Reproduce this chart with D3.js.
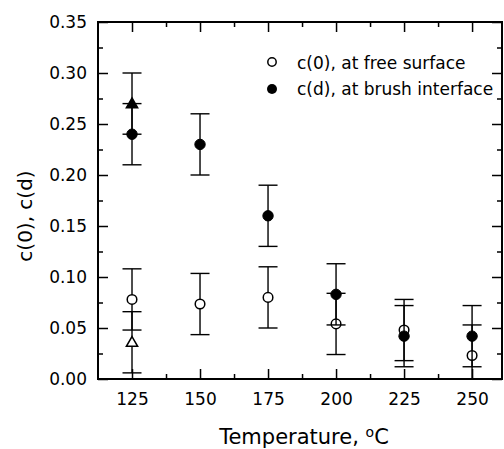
<!DOCTYPE html>
<html>
<head>
<meta charset="utf-8">
<script src="https://cdn.jsdelivr.net/npm/d3@7"></script>
<style>
  html, body { margin: 0; padding: 0; background: #fff; }
  svg { display: block; font-family: "DejaVu Sans", sans-serif; }
</style>
</head>
<body>
<svg id="chart" width="504" height="449"></svg>
<script>
// ---- data ----
const temps = [125, 150, 175, 200, 225, 250];
const c0Values = [0.078, 0.0735, 0.080, 0.054, 0.048, 0.023];
const c0Errors = [0.03, 0.03, 0.03, 0.03, 0.03, 0.03];
const cdValues = [0.24, 0.23, 0.16, 0.083, 0.042, 0.042];
const cdErrors = [0.03, 0.03, 0.03, 0.03, 0.03, 0.03];
const triFilledTemps = [125];
const triFilledValues = [0.27];
const triFilledErrors = [0.03];
const triOpenTemps = [125];
const triOpenValues = [0.036];
const triOpenErrors = [0.03];
const xTicks = [125, 150, 175, 200, 225, 250];
const xMinorTicks = [137.5, 162.5, 187.5, 212.5, 237.5];
const yTicks = [0, 0.05, 0.10, 0.15, 0.20, 0.25, 0.30, 0.35];
const yMinorTicks = [0.025, 0.075, 0.125, 0.175, 0.225, 0.275, 0.325];
const legendLabels = ["c(0), at free surface", "c(d), at brush interface"];

// ---- layout ----
const L = 98, R = 502, T = 22, B = 379;
const svg = d3.select("#chart");
const x = d3.scaleLinear().domain([112.5, 261]).range([L, R]);
const y = d3.scaleLinear().domain([0, 0.35]).range([B, T]);

svg.append("defs").append("clipPath").attr("id", "plotclip")
  .append("rect").attr("x", L).attr("y", T).attr("width", R - L).attr("height", B - T);

function styleAxis(g) {
  g.select(".domain").remove();
  g.selectAll(".tick line").attr("stroke", "#000").attr("stroke-width", 1.5);
  g.selectAll(".tick text").attr("fill", "#000").attr("font-size", 17)
    .attr("font-family", "DejaVu Sans, sans-serif");
}

// bottom
svg.append("g").attr("transform", `translate(0,${B})`)
  .call(d3.axisBottom(x).tickValues(xTicks).tickSize(-10).tickPadding(14).tickFormat(d3.format("d")))
  .call(styleAxis);
svg.append("g").attr("transform", `translate(0,${B})`)
  .call(d3.axisBottom(x).tickValues(xMinorTicks).tickSize(-5).tickFormat(""))
  .call(styleAxis);
// top
svg.append("g").attr("transform", `translate(0,${T})`)
  .call(d3.axisTop(x).tickValues(xTicks).tickSize(-10).tickFormat(""))
  .call(styleAxis);
svg.append("g").attr("transform", `translate(0,${T})`)
  .call(d3.axisTop(x).tickValues(xMinorTicks).tickSize(-5).tickFormat(""))
  .call(styleAxis);
// left
svg.append("g").attr("transform", `translate(${L},0)`)
  .call(d3.axisLeft(y).tickValues(yTicks).tickSize(-10).tickPadding(11).tickFormat(d3.format(".2f")))
  .call(styleAxis);
svg.append("g").attr("transform", `translate(${L},0)`)
  .call(d3.axisLeft(y).tickValues(yMinorTicks).tickSize(-5).tickFormat(""))
  .call(styleAxis);
// right
svg.append("g").attr("transform", `translate(${R},0)`)
  .call(d3.axisRight(y).tickValues(yTicks).tickSize(-10).tickFormat(""))
  .call(styleAxis);
svg.append("g").attr("transform", `translate(${R},0)`)
  .call(d3.axisRight(y).tickValues(yMinorTicks).tickSize(-5).tickFormat(""))
  .call(styleAxis);

// frame
svg.append("rect").attr("x", L).attr("y", T).attr("width", R - L).attr("height", B - T)
  .attr("fill", "none").attr("stroke", "#000").attr("stroke-width", 2);

const plot = svg.append("g").attr("clip-path", "url(#plotclip)");
const capHalf = 9.5;

function errorBars(ts, vs, es) {
  const g = plot.append("g").attr("stroke", "#000").attr("stroke-width", 1.4);
  ts.forEach((t, i) => {
    const lo = vs[i] - es[i], hi = vs[i] + es[i];
    const cx = x(t);
    g.append("line").attr("x1", cx).attr("x2", cx)
      .attr("y1", y(Math.max(lo, 0))).attr("y2", y(hi));
    g.append("line").attr("x1", cx - capHalf).attr("x2", cx + capHalf)
      .attr("y1", y(hi)).attr("y2", y(hi));
    if (lo >= 0) {
      g.append("line").attr("x1", cx - capHalf).attr("x2", cx + capHalf)
        .attr("y1", y(lo)).attr("y2", y(lo));
    }
  });
}
function circles(ts, vs, filled) {
  plot.append("g").selectAll("circle").data(ts).join("circle")
    .attr("cx", d => x(d)).attr("cy", (d, i) => y(vs[i]))
    .attr("r", filled ? 5.2 : 4.8)
    .attr("fill", filled ? "#000" : "#fff")
    .attr("stroke", "#000").attr("stroke-width", filled ? 1 : 1.5);
}
const triSym = d3.symbol().type(d3.symbolTriangle).size(55);
function triangles(ts, vs, filled) {
  plot.append("g").selectAll("path").data(ts).join("path")
    .attr("d", triSym)
    .attr("transform", (d, i) => `translate(${x(d)},${y(vs[i]) + 0.8})`)
    .attr("fill", filled ? "#000" : "#fff")
    .attr("stroke", "#000").attr("stroke-width", 1.5);
}

errorBars(triOpenTemps, triOpenValues, triOpenErrors);
triangles(triOpenTemps, triOpenValues, false);
errorBars(temps, c0Values, c0Errors);
circles(temps, c0Values, false);
errorBars(triFilledTemps, triFilledValues, triFilledErrors);
triangles(triFilledTemps, triFilledValues, true);
errorBars(temps, cdValues, cdErrors);
circles(temps, cdValues, true);

// legend
const leg = svg.append("g");
leg.append("circle").attr("cx", 272).attr("cy", 62).attr("r", 4.2)
  .attr("fill", "#fff").attr("stroke", "#000").attr("stroke-width", 1.5);
leg.append("circle").attr("cx", 272).attr("cy", 89).attr("r", 5)
  .attr("fill", "#000");
leg.selectAll("text").data(legendLabels).join("text")
  .attr("x", 297).attr("y", (d, i) => 69 + i * 26)
  .attr("font-size", 17).attr("fill", "#000").text(d => d);

// axis titles
const xt = svg.append("text").attr("x", 304).attr("y", 444)
  .attr("text-anchor", "middle").attr("font-size", 21).attr("fill", "#000");
xt.append("tspan").text("Temperature, ");
xt.append("tspan").attr("font-size", 14).attr("dy", -7).text("o");
xt.append("tspan").attr("dy", 7).text("C");

svg.append("text").attr("transform", "translate(32,216) rotate(-90)")
  .attr("text-anchor", "middle").attr("font-size", 20).attr("fill", "#000")
  .text("c(0), c(d)");
</script>
</body>
</html>
